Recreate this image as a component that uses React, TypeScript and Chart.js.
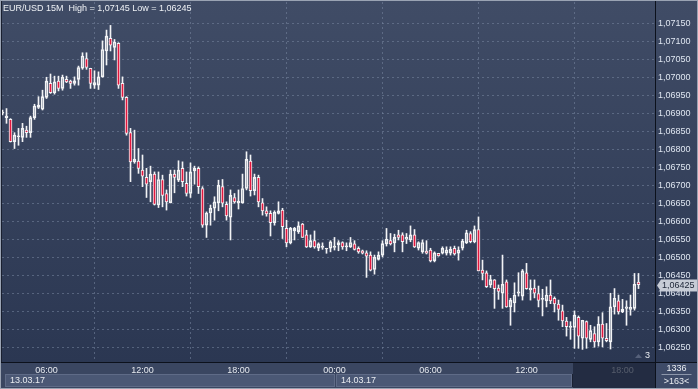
import { useEffect, useRef } from 'react';
import { Chart, registerables } from 'chart.js';

Chart.register(...registerables);

// ---------- data ----------
const TITLE = 'EUR/USD 15M  High = 1,07145 Low = 1,06245';
const DATES = ['13.03.17', '14.03.17'];
const FIRST_BAR_MINUTES = 3 * 60 + 15; // 13.03.17 03:15
const BAR_MINUTES = 15;

const OPEN = [
  1.06901, 1.06889, 1.06884, 1.06822, 1.06836, 1.06834, 1.06854, 1.06847, 1.06889, 1.06917,
  1.06912, 1.06945, 1.06984, 1.06958, 1.0699, 1.0697, 1.06995, 1.0699, 1.06984, 1.06995,
  1.07026, 1.07053, 1.07026, 1.06979, 1.06979, 1.07002, 1.07074, 1.07109, 1.07084, 1.07095,
  1.06984, 1.06945, 1.06847, 1.06766, 1.06768, 1.06743, 1.06723, 1.06711, 1.06732, 1.06646,
  1.06717, 1.06678, 1.06652, 1.06732, 1.06715, 1.06748, 1.06706, 1.06678, 1.06741, 1.06748,
  1.06692, 1.0659, 1.06624, 1.06637, 1.06652, 1.06697, 1.06648, 1.06612, 1.06667, 1.06652,
  1.06652, 1.06692, 1.06768, 1.06686, 1.06723, 1.06652, 1.0663, 1.06623, 1.06597, 1.06623,
  1.06632, 1.06581, 1.06541, 1.06574, 1.06572, 1.06593, 1.06563, 1.0653, 1.06547, 1.06526,
  1.06528, 1.06524, 1.06526, 1.06528, 1.06535, 1.06542, 1.0653, 1.0653, 1.06538, 1.06526,
  1.06519, 1.06513, 1.06507, 1.06467, 1.06495, 1.06507, 1.06538, 1.06547, 1.06541, 1.06563,
  1.06563, 1.06551, 1.06549, 1.06563, 1.06526, 1.06516, 1.06518, 1.06521, 1.06491, 1.06512,
  1.06512, 1.06512, 1.06512, 1.06526, 1.06512, 1.06526, 1.06541, 1.06567, 1.06544, 1.06578,
  1.06465, 1.06458, 1.06424, 1.06438, 1.06415, 1.06401, 1.06433, 1.06363, 1.06374, 1.06401,
  1.06393, 1.06458, 1.0641, 1.06415, 1.064, 1.06384, 1.0638, 1.06396, 1.06387, 1.06371,
  1.06352, 1.06324, 1.06306, 1.06306, 1.06334, 1.06276, 1.06322, 1.06273, 1.06289, 1.06266,
  1.06315, 1.06276, 1.06266, 1.06363, 1.0638, 1.06349, 1.06359, 1.06356, 1.06359, 1.06432,
];

const HIGH = [
  1.0691, 1.06914, 1.06886, 1.06847, 1.06859, 1.06873, 1.06865, 1.06893, 1.06926, 1.06947,
  1.06965, 1.07001, 1.0701, 1.07004, 1.07004, 1.07007, 1.07004, 1.06993, 1.07002, 1.07032,
  1.07069, 1.07069, 1.07026, 1.07019, 1.07016, 1.07102, 1.07132, 1.07145, 1.07106, 1.07097,
  1.07002, 1.06947, 1.06859, 1.06854, 1.06803, 1.06785, 1.06748, 1.06754, 1.06738, 1.06738,
  1.06729, 1.06688, 1.06743, 1.06743, 1.06769, 1.06766, 1.06738, 1.06763, 1.06754, 1.06752,
  1.06697, 1.06627, 1.06646, 1.06669, 1.06715, 1.06717, 1.06655, 1.06688, 1.06678, 1.06688,
  1.06732, 1.06794, 1.06785, 1.06732, 1.06729, 1.06664, 1.06641, 1.0663, 1.0663, 1.06655,
  1.06637, 1.06604, 1.06584, 1.06584, 1.06599, 1.06595, 1.06576, 1.06563, 1.06574, 1.06541,
  1.06541, 1.06526, 1.06547, 1.06556, 1.06547, 1.06544, 1.06541, 1.06556, 1.06547, 1.0653,
  1.06521, 1.06519, 1.06516, 1.06507, 1.06516, 1.06547, 1.06581, 1.06567, 1.06565, 1.06576,
  1.06569, 1.06567, 1.06588, 1.06578, 1.06544, 1.06549, 1.06547, 1.06526, 1.06516, 1.06512,
  1.0653, 1.0653, 1.0653, 1.06532, 1.0653, 1.06551, 1.06576, 1.06572, 1.06588, 1.06613,
  1.06493, 1.06463, 1.06451, 1.06439, 1.06424, 1.06507, 1.06438, 1.06387, 1.0643, 1.06458,
  1.06467, 1.06484, 1.06438, 1.06438, 1.06421, 1.06412, 1.06419, 1.06438, 1.06391, 1.06382,
  1.06368, 1.06334, 1.06322, 1.06352, 1.06338, 1.06326, 1.06324, 1.06312, 1.06308, 1.06336,
  1.06347, 1.06317, 1.06401, 1.06414, 1.06396, 1.06384, 1.0638, 1.06396, 1.06456, 1.06456,
];

const LOW = [
  1.06896, 1.06873, 1.06821, 1.06803, 1.06812, 1.06822, 1.06834, 1.06834, 1.06884, 1.06914,
  1.0691, 1.06942, 1.06956, 1.06954, 1.06963, 1.06965, 1.06986, 1.0697, 1.06979, 1.06979,
  1.07023, 1.07023, 1.0697, 1.0697, 1.06967, 1.07001, 1.07035, 1.07074, 1.07049, 1.0697,
  1.06938, 1.0684, 1.06711, 1.06762, 1.06734, 1.06697, 1.06667, 1.06655, 1.06646, 1.06639,
  1.06641, 1.06632, 1.06652, 1.0668, 1.06711, 1.06697, 1.06671, 1.06667, 1.06704, 1.06678,
  1.06584, 1.06556, 1.0659, 1.06604, 1.0663, 1.06641, 1.06604, 1.06549, 1.06651, 1.06635,
  1.06651, 1.06688, 1.06671, 1.06674, 1.06641, 1.06618, 1.06615, 1.0656, 1.0659, 1.06621,
  1.06553, 1.0653, 1.06538, 1.06549, 1.06567, 1.06556, 1.06528, 1.06528, 1.06526, 1.06519,
  1.06523, 1.06512, 1.06516, 1.06521, 1.06519, 1.06523, 1.06519, 1.06528, 1.06521, 1.06512,
  1.0651, 1.06445, 1.06463, 1.06454, 1.06493, 1.06502, 1.06532, 1.06535, 1.06516, 1.06549,
  1.06516, 1.06539, 1.06544, 1.06528, 1.06521, 1.06512, 1.0651, 1.06488, 1.06488, 1.06504,
  1.0651, 1.06507, 1.06507, 1.06507, 1.06493, 1.06521, 1.06539, 1.06541, 1.06541, 1.06463,
  1.06438, 1.06417, 1.06417, 1.06359, 1.06384, 1.06359, 1.06362, 1.06312, 1.06349, 1.06393,
  1.06382, 1.06412, 1.06382, 1.06388, 1.06363, 1.06338, 1.06363, 1.06372, 1.06349, 1.06326,
  1.06308, 1.06282, 1.06273, 1.06248, 1.06248, 1.06245, 1.06248, 1.06266, 1.06251, 1.06254,
  1.06252, 1.06266, 1.06246, 1.06343, 1.06343, 1.06347, 1.06312, 1.0634, 1.06354, 1.06414,
];

const CLOSE = [
  1.06904, 1.06893, 1.06822, 1.0684, 1.06838, 1.06859, 1.06847, 1.06889, 1.06921, 1.06924,
  1.06947, 1.0699, 1.06958, 1.06988, 1.0697, 1.07001, 1.06988, 1.06984, 1.06991, 1.07028,
  1.0706, 1.07028, 1.06984, 1.06986, 1.07002, 1.07078, 1.07115, 1.0709, 1.07099, 1.06979,
  1.06945, 1.06845, 1.06766, 1.06774, 1.06748, 1.06726, 1.06704, 1.06732, 1.06648, 1.06717,
  1.06673, 1.06655, 1.06732, 1.06723, 1.06743, 1.06711, 1.06678, 1.06738, 1.06748, 1.06697,
  1.0659, 1.06624, 1.06637, 1.06655, 1.06701, 1.06651, 1.06616, 1.06673, 1.06655, 1.06657,
  1.06692, 1.06773, 1.06686, 1.06723, 1.06655, 1.0663, 1.06621, 1.06597, 1.06626, 1.0663,
  1.06586, 1.06541, 1.06581, 1.06581, 1.06588, 1.06556, 1.0653, 1.06547, 1.0653, 1.06538,
  1.06532, 1.06526, 1.06544, 1.06532, 1.06542, 1.0653, 1.06533, 1.06542, 1.06523, 1.06516,
  1.06512, 1.06504, 1.06465, 1.06501, 1.06507, 1.06539, 1.06551, 1.06538, 1.06556, 1.06556,
  1.06544, 1.06556, 1.06563, 1.0653, 1.06542, 1.06542, 1.06512, 1.06491, 1.06513, 1.06505,
  1.06526, 1.06521, 1.06523, 1.0651, 1.06521, 1.06546, 1.06569, 1.06544, 1.06578, 1.06463,
  1.06456, 1.06419, 1.06439, 1.06414, 1.06406, 1.06426, 1.06363, 1.06382, 1.06396, 1.06405,
  1.06463, 1.06414, 1.06415, 1.06401, 1.06381, 1.06387, 1.06396, 1.0638, 1.06371, 1.06356,
  1.06324, 1.06308, 1.0631, 1.0634, 1.06282, 1.06326, 1.06276, 1.06297, 1.06266, 1.06315,
  1.06276, 1.06269, 1.06363, 1.06387, 1.06349, 1.06356, 1.06363, 1.06362, 1.06426, 1.06425,
];

const Y_TICKS = [
  1.0625, 1.063, 1.0635, 1.064, 1.0645, 1.065, 1.0655, 1.066, 1.0665, 1.067,
  1.0675, 1.068, 1.0685, 1.069, 1.0695, 1.07, 1.0705, 1.071, 1.0715,
];
const Y_MIN = 1.0621;
const Y_MAX = 1.0721;
const LAST_PRICE = 1.06425;
const INFO_TOP = '1336';
const INFO_BOTTOM = '>163<';
const PAGE_MARK = '3';

// ---------- derived ----------
const pad2 = (n: number) => (n < 10 ? '0' : '') + n;
const BAR_TIMES = OPEN.map((_, i) => {
  const m = FIRST_BAR_MINUTES + i * BAR_MINUTES;
  const day = Math.floor(m / 1440);
  const mm = m % 1440;
  return { day, label: pad2(Math.floor(mm / 60)) + ':' + pad2(mm % 60), minute: mm };
});
const TIME_TICK_INDEXES = BAR_TIMES.map((t, i) => (t.minute % 360 === 0 ? i : -1)).filter((i) => i >= 0);
const DAY_START_INDEXES = BAR_TIMES.map((t, i) => (i > 0 && t.day !== BAR_TIMES[i - 1].day ? i : -1)).filter((i) => i >= 0);

const FONT = "'Liberation Sans', Arial, sans-serif";
const RED = '#e3173e';
const WHITE = '#f2f3f5';
const GRID = 'rgba(120,134,160,0.55)';
const fmt = (v: number) => v.toFixed(5).replace('.', ',');

const decorPlugin = {
  id: 'decor',
  beforeDraw(chart: any) {
    const { ctx, width, height, chartArea } = chart;
    ctx.save();
    const g = ctx.createLinearGradient(0, 0, 0, chartArea.bottom);
    g.addColorStop(0, '#404c66');
    g.addColorStop(1, '#2b3752');
    ctx.fillStyle = g;
    ctx.fillRect(0, 0, width, chartArea.bottom);
    ctx.fillStyle = '#3a4661';
    ctx.fillRect(0, chartArea.bottom, width, height - chartArea.bottom);
    ctx.restore();
  },
  afterDraw(chart: any) {
    const { ctx, width, height, chartArea, scales } = chart;
    const xs = scales.x;
    const ys = scales.y;
    const bottom = chartArea.bottom;
    ctx.save();

    // date bar
    const barTop = bottom + 12;
    const barBottom = height - 2;
    const splits = [chartArea.left + 3, ...DAY_START_INDEXES.map((i: number) => Math.round(xs.getPixelForValue(i)) + 1), 573];
    for (let d = 0; d < splits.length - 1; d++) {
      const x0 = splits[d];
      const x1 = splits[d + 1] - 1;
      ctx.fillStyle = '#4b5875';
      ctx.fillRect(x0, barTop, x1 - x0, barBottom - barTop);
      ctx.strokeStyle = '#5f6b87';
      ctx.lineWidth = 1;
      ctx.strokeRect(x0 + 0.5, barTop + 0.5, x1 - x0 - 1, barBottom - barTop - 1);
      ctx.fillStyle = '#e8ebf0';
      ctx.font = '9px ' + FONT;
      ctx.textBaseline = 'middle';
      ctx.textAlign = 'left';
      ctx.fillText(DATES[d], x0 + 5, (barTop + barBottom) / 2 + 0.5);
    }
    // dimmed navigator area
    ctx.fillStyle = 'rgba(26,34,54,0.72)';
    ctx.fillRect(573, bottom + 1, chartArea.right - 573, height - bottom - 1);
    ctx.fillStyle = '#1a2132';
    ctx.fillRect(572, barTop, 1, barBottom - barTop);

    // bottom-right info box
    ctx.fillStyle = '#3e4b68';
    ctx.fillRect(chartArea.right + 1, bottom + 1, width - chartArea.right - 2, height - bottom - 2);
    ctx.fillStyle = '#e8ebf0';
    ctx.font = '9px ' + FONT;
    ctx.textAlign = 'center';
    ctx.textBaseline = 'middle';
    const cx = (chartArea.right + width) / 2;
    ctx.fillText(INFO_TOP, cx, bottom + 6.5);
    ctx.fillText(INFO_BOTTOM, cx, bottom + 20);
    ctx.fillStyle = '#8d97ab';
    ctx.fillRect(cx - 15, bottom + 12, 30, 1);

    // axis lines
    ctx.fillStyle = '#0c111c';
    ctx.fillRect(0, bottom, width, 1);
    ctx.fillRect(chartArea.right, 0, 1, height);

    // page mark
    ctx.fillStyle = '#e8ebf0';
    ctx.textAlign = 'left';
    ctx.fillText(PAGE_MARK, chartArea.right - 10, bottom - 6);
    ctx.fillStyle = '#56617a';
    ctx.beginPath();
    ctx.moveTo(chartArea.right - 20, bottom - 4);
    ctx.lineTo(chartArea.right - 16.5, bottom - 8);
    ctx.lineTo(chartArea.right - 13, bottom - 4);
    ctx.closePath();
    ctx.fill();

    // last price label
    const py = Math.round(ys.getPixelForValue(LAST_PRICE)) + 0.5;
    const lx = chartArea.right + 2;
    ctx.fillStyle = '#c7ccd6';
    ctx.beginPath();
    ctx.moveTo(lx, py);
    ctx.lineTo(lx + 4, py - 6);
    ctx.lineTo(width - 1, py - 6);
    ctx.lineTo(width - 1, py + 6);
    ctx.lineTo(lx + 4, py + 6);
    ctx.closePath();
    ctx.fill();
    ctx.fillStyle = '#1c2436';
    ctx.textAlign = 'left';
    ctx.textBaseline = 'middle';
    ctx.font = '9px ' + FONT;
    ctx.fillText(fmt(LAST_PRICE), lx + 5, py + 0.5);

    // title
    ctx.fillStyle = '#eef1f5';
    ctx.font = '9px ' + FONT;
    ctx.textAlign = 'left';
    ctx.textBaseline = 'middle';
    ctx.fillText(TITLE, 3, 8.5);

    // frame
    ctx.strokeStyle = '#9aa3b3';
    ctx.lineWidth = 1;
    ctx.strokeRect(0.5, 0.5, width - 1, height - 1);
    ctx.fillStyle = '#1a2030';
    ctx.fillRect(1, 1, 1, bottom - 1);
    ctx.restore();
  },
};

export default function App() {
  const ref = useRef<HTMLCanvasElement | null>(null);
  useEffect(() => {
    if (!ref.current) return;
    const bodyLo = OPEN.map((o, i) => Math.min(o, CLOSE[i]));
    const bodyHi = OPEN.map((o, i) => Math.max(o, CLOSE[i]));
    const chart = new Chart(ref.current, {
      type: 'bar',
      data: {
        datasets: [
          {
            label: 'upper wick',
            data: OPEN.map((_, i) => ({ x: i, y: [bodyHi[i], HIGH[i]] })) as any,
            backgroundColor: WHITE,
            borderWidth: 0,
            barThickness: 1,
            grouped: false,
            order: 2,
          },
          {
            label: 'lower wick',
            data: OPEN.map((_, i) => ({ x: i, y: [LOW[i], bodyLo[i]] })) as any,
            backgroundColor: WHITE,
            borderWidth: 0,
            barThickness: 1,
            grouped: false,
            order: 2,
          },
          {
            label: 'body',
            data: OPEN.map((_, i) => ({ x: i, y: [bodyLo[i], bodyHi[i]] })) as any,
            backgroundColor: OPEN.map((o, i) => (CLOSE[i] < o ? RED : 'rgba(0,0,0,0)')),
            borderColor: WHITE,
            borderWidth: 1,
            borderSkipped: false,
            barThickness: 3,
            grouped: false,
            order: 1,
          },
        ],
      },
      options: {
        responsive: false,
        devicePixelRatio: 1,
        animation: false,
        events: [],
        layout: { padding: { left: 2, top: 2, right: 0, bottom: 0 } },
        plugins: { legend: { display: false }, tooltip: { enabled: false }, title: { display: false } },
        scales: {
          x: {
            type: 'linear',
            position: 'bottom',
            min: -0.125,
            max: 163.125,
            offset: false,
            grid: { color: GRID, lineWidth: 1, drawTicks: false },
            border: { display: false, dash: [2, 3] },
            ticks: {
              autoSkip: false,
              maxRotation: 0,
              color: '#e6e9ef',
              font: { family: FONT, size: 9 },
              padding: 3,
              callback: (v: any) => (BAR_TIMES[v] ? BAR_TIMES[v].label : ''),
            },
            afterBuildTicks: (s: any) => {
              s.ticks = TIME_TICK_INDEXES.map((v) => ({ value: v }));
            },
            afterFit: (s: any) => {
              s.height = 27;
              s.paddingLeft = 0;
              s.paddingRight = 0;
            },
          },
          y: {
            type: 'linear',
            position: 'right',
            min: Y_MIN,
            max: Y_MAX,
            grid: { color: GRID, lineWidth: 1, drawTicks: false },
            border: { display: false, dash: [2, 3] },
            ticks: {
              color: '#dfe6f1',
              font: { family: FONT, size: 9 },
              padding: 3,
              callback: (v: any) => fmt(Number(v)),
            },
            afterBuildTicks: (s: any) => {
              s.ticks = Y_TICKS.map((v) => ({ value: v }));
            },
            afterFit: (s: any) => {
              s.width = 43;
              s.paddingTop = 0;
              s.paddingBottom = 0;
            },
          },
        },
      } as any,
      plugins: [decorPlugin],
    });
    return () => chart.destroy();
  }, []);
  return (
    <div style={{ position: 'fixed', left: 0, top: 0, width: 698, height: 389, background: '#3a4661' }}>
      <canvas ref={ref} width={698} height={389} style={{ display: 'block', width: 698, height: 389 }} />
    </div>
  );
}
